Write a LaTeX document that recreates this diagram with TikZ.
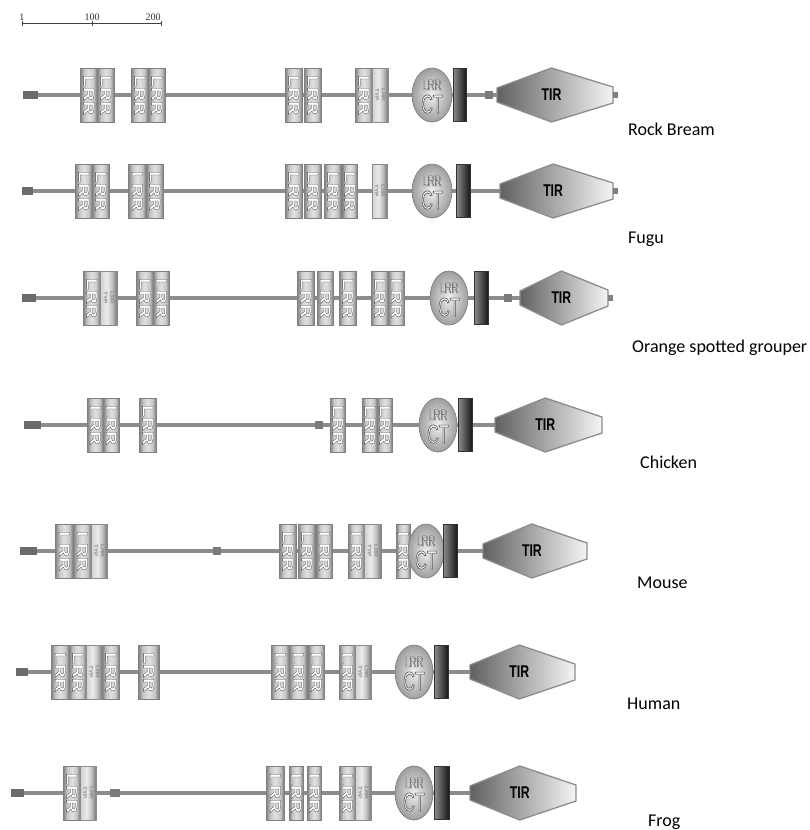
\documentclass[tikz,border=0pt]{standalone}
\usepackage{fontspec}
\usepackage{graphicx}
\setmainfont{Liberation Serif}
\newfontfamily\labfont{Carlito}
\newfontfamily\lrrfont[FakeStretch=1.3,FakeBold=2]{Liberation Sans Bold}
\newfontfamily\typfont[FakeStretch=1.3]{Liberation Sans Bold}
\newfontfamily\ctfont[FakeStretch=0.62,FakeBold=2]{Liberation Sans}
\newfontfamily\tirfont[FakeStretch=0.72]{Liberation Sans Bold}
\newcommand\otext[1]{\special{pdf:bcolor [1] [0.28]}#1\special{pdf:ecolor}}
\usetikzlibrary{shapes.geometric}
\pgfdeclarelayer{bg}
\pgfsetlayers{bg,main}
\pgfdeclarehorizontalshading{metal}{100bp}{color(0bp)=(black!50); color(25bp)=(black!50); color(36bp)=(black!22); color(50bp)=(black!12); color(64bp)=(black!22); color(75bp)=(black!55); color(100bp)=(black!55)}
\pgfdeclarehorizontalshading{typ}{100bp}{color(0bp)=(black!18); color(25bp)=(black!18); color(45bp)=(black!8); color(60bp)=(black!25); color(75bp)=(black!55); color(100bp)=(black!55)}
\tikzset{
  backbone/.style={line width=4pt, draw=black!45},
  startsq/.style={rectangle, fill=black!58, inner sep=0pt, minimum height=8pt, anchor=west},
  smallsq/.style={rectangle, fill=black!52, inner sep=0pt, minimum height=8pt, anchor=west},
  stubsq/.style={rectangle, fill=black!50, inner sep=0pt, minimum width=5pt, minimum height=6pt, anchor=west},
  lrrbox/.style={rectangle, shade, shading=metal, draw=black!50, line width=0.6pt, inner sep=0pt,
    minimum height=54pt, anchor=west, font=\lrrfont\fontsize{15}{15}\selectfont},
  typbox/.style={rectangle, shade, shading=typ, draw=black!45, line width=0.6pt, inner sep=0pt,
    minimum height=54pt, anchor=west, text=black!45, font=\typfont\fontsize{5}{5.5}\selectfont},
  ctnode/.style={ellipse, shade, inner color=black!6, outer color=black!38, draw=black!50, line width=0.7pt,
    inner sep=0pt, minimum height=54pt},
  cttext/.style={inner sep=0pt, align=center, font=\ctfont\fontsize{26}{23}\selectfont},
  barnode/.style={rectangle, inner sep=0pt, minimum height=53pt, left color=black!45, right color=black!92,
    draw=black!80, line width=0.5pt, anchor=west},
  tirsh/.style={left color=black!62, right color=black!4, draw=black!45, line width=1.3pt, line join=round},
  tirtext/.style={font=\tirfont\fontsize{17}{17}\selectfont, inner sep=0pt},
  spl/.style={anchor=base west, font=\labfont\fontsize{18}{18}\selectfont, inner sep=0pt},
  sclab/.style={anchor=base, font=\fontsize{10}{10}\selectfont, inner sep=0pt, text=black!80},
  scaleline/.style={draw=black!75, line width=0.9pt}
}
\newcommand\START[3]{\node[startsq, minimum width=#3pt] (#1) at (#2,\yc) {};}
\newcommand\SQ[3]{\node[smallsq, minimum width=#3pt] (#1) at (#2,\yc) {};}
\newcommand\LRR[3]{\node[lrrbox, minimum width=#3pt] (#1) at (#2,\yc) {\rotatebox{-90}{\otext{LRR}}};}
\newcommand\TYP[3]{\node[typbox, minimum width=#3pt] (#1) at (#2,\yc) {\rotatebox{-90}{\shortstack{LRR\\TYP}}};}
\newcommand\CT[3]{\node[ctnode, minimum width=#3pt] (#1) at (#2,\yc) {};
  \node[cttext] (#1a) at ([yshift=-1.5pt]#1.center) {{\fontsize{15}{15}\selectfont\otext{LRR}}\\\otext{CT}};}
\newcommand\BAR[3]{\node[barnode, minimum width=#3pt] (#1) at (#2,\yc) {};}
\newcommand\TIR[3]{%
  \pgfmathsetmacro\tm{#2+0.47*(#3-#2)}%
  \path[tirsh] (#2,\yc-7) -- (\tm,\yc-27) -- (#3,\yc-8) -- (#3,\yc+8) -- (\tm,\yc+27) -- (#2,\yc+7) -- cycle;
  \node[tirtext] (#1) at (\tm,\yc) {TIR};
  \coordinate (#1w) at (#2,\yc);
  \coordinate (#1e) at (#3,\yc);}
\newcommand\STUB[2]{\node[stubsq] (#1) at (#2) {};}
\newcommand\BACKBONE[2]{\begin{pgfonlayer}{bg}\draw[backbone] (#1.east) -- (#2);\end{pgfonlayer}}
\begin{document}
\begin{tikzpicture}[x=1pt,y=-1pt]
\useasboundingbox (0,0) rectangle (810,830);
\begin{pgfonlayer}{bg}\fill[white] (0,0) rectangle (810,830);\end{pgfonlayer}
% scale bar
\coordinate (sb0) at (22,23);
\coordinate (sb1) at (92,23);
\coordinate (sb2) at (161,23);
\draw[scaleline] (sb0) -- (sb2);
\draw[scaleline] (sb0) ++(0,-2) -- ++(0,5);
\draw[scaleline] (sb1) ++(0,-2) -- ++(0,5);
\draw[scaleline] (sb2) ++(0,-2) -- ++(0,5);
\node[sclab] (n1) at (22,20) {1};
\node[sclab] (n100) at (92,20) {100};
\node[sclab] (n200) at (153,20) {200};
% Row 1 Rock Bream
\def\yc{95}
\START{s1}{23}{15}
\LRR{a1}{80}{17}\LRR{b1}{97}{17}\LRR{c1}{131}{17}\LRR{d1}{148}{17}
\LRR{e1}{285}{17}\LRR{f1}{304}{17}
\LRR{g1}{355}{17}\TYP{h1}{372}{16}
\CT{ct1}{432}{40}
\BAR{tm1}{453}{13}
\SQ{q1}{485}{8}
\TIR{t1}{497}{613}
\STUB{u1}{t1e}
\BACKBONE{s1}{t1w}
\node[spl] (L1) at (628,135) {Rock Bream};
% Row 2 Fugu
\def\yc{191}
\START{s2}{22}{11}
\LRR{a2}{75}{17}\LRR{b2}{92}{17}\LRR{c2}{128}{18}\LRR{d2}{146}{17}
\LRR{e2}{285}{17}\LRR{f2}{304}{17}\LRR{g2}{324}{17}\LRR{h2}{342}{15}
\TYP{i2}{372}{15}
\CT{ct2}{432}{40}
\BAR{tm2}{456}{14}
\TIR{t2}{500}{613}
\STUB{u2}{t2e}
\BACKBONE{s2}{t2w}
\node[spl] (L2) at (628,243) {Fugu};
% Row 3 Orange spotted grouper
\def\yc{298}
\START{s3}{22}{14}
\LRR{a3}{83}{17}\TYP{b3}{100}{17}
\LRR{c3}{136}{17}\LRR{d3}{153}{16}
\LRR{e3}{297}{17}\LRR{f3}{317}{16}\LRR{g3}{339}{17}
\LRR{h3}{371}{17}\LRR{i3}{388}{16}
\CT{ct3}{449}{38}
\BAR{tm3}{474}{14}
\SQ{q3}{504}{8}
\TIR{t3}{520}{608}
\STUB{u3}{t3e}
\BACKBONE{s3}{t3w}
\node[spl] (L3) at (632,352) {Orange spotted grouper};
% Row 4 Chicken
\def\yc{425}
\START{s4}{24}{17}
\LRR{a4}{87}{16}\LRR{b4}{103}{16}\LRR{c4}{139}{17}
\SQ{q4}{315}{8}
\LRR{d4}{330}{15}
\LRR{e4}{362}{15}\LRR{f4}{377}{15}
\CT{ct4}{438}{38}
\BAR{tm4}{458}{14}
\TIR{t4}{495}{602}
\BACKBONE{s4}{t4w}
\node[spl] (L4) at (640,468) {Chicken};
% Row 5 Mouse
\def\yc{551}
\START{s5}{20}{17}
\LRR{a5}{55}{18}\LRR{b5}{73}{18}\TYP{c5}{91}{16}
\SQ{q5}{213}{8}
\LRR{d5}{279}{17}\LRR{e5}{298}{17}\LRR{f5}{316}{16}
\LRR{g5}{348}{16}\TYP{h5}{364}{17}
\LRR{i5}{396}{14}
\CT{ct5}{426}{36}
\BAR{tm5}{443}{14}
\TIR{t5}{483}{587}
\BACKBONE{s5}{t5w}
\node[spl] (L5) at (637,588) {Mouse};
% Row 6 Human
\def\yc{672}
\START{s6}{16}{12}
\LRR{a6}{51}{18}\LRR{b6}{69}{17}\TYP{c6}{86}{16}\LRR{d6}{102}{17}
\LRR{e6}{138}{21}
\LRR{f6}{271}{18}\LRR{g6}{289}{18}\LRR{h6}{308}{16}
\LRR{i6}{339}{16}\TYP{j6}{355}{16}
\CT{ct6}{414}{38}
\BAR{tm6}{434}{14}
\TIR{t6}{470}{575}
\BACKBONE{s6}{t6w}
\node[spl] (L6) at (627,709) {Human};
% Row 7 Frog
\def\yc{793}
\START{s7}{11}{13}
\LRR{a7}{63}{17}\TYP{b7}{80}{16}
\SQ{q7}{110}{10}
\LRR{c7}{266}{18}\LRR{d7}{289}{14}\LRR{e7}{307}{14}
\LRR{f7}{339}{16}\TYP{g7}{355}{16}
\CT{ct7}{414}{38}
\BAR{tm7}{434}{15}
\TIR{t7}{470}{576}
\BACKBONE{s7}{t7w}
\node[spl] (L7) at (648,826) {Frog};
\end{tikzpicture}
\end{document}
